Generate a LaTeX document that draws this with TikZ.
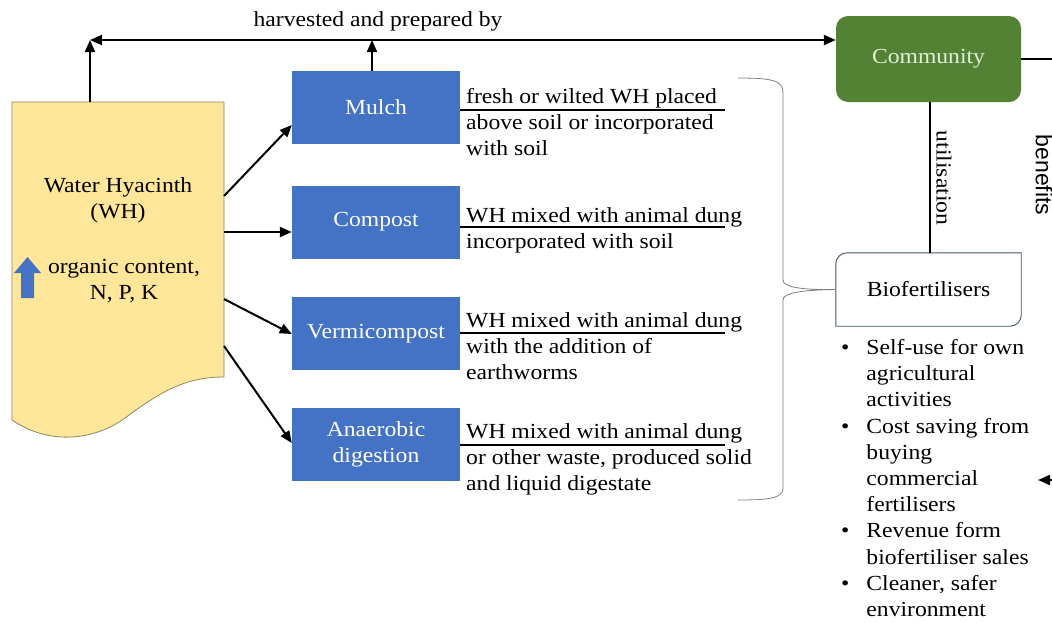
\documentclass[tikz,border=0pt]{standalone}
\usepackage{fontspec}
\setmainfont[FakeStretch=1.1]{Liberation Serif}
\setsansfont{Liberation Sans}
\usetikzlibrary{arrows.meta}
\definecolor{whfill}{HTML}{FFE699}
\definecolor{whdraw}{HTML}{8A8A5C}
\definecolor{bluebox}{HTML}{4472C4}
\definecolor{greenbox}{HTML}{548235}
\definecolor{greentext}{HTML}{E2F0D9}
\definecolor{bioline}{HTML}{44546A}
\definecolor{bracegray}{HTML}{808080}
\tikzset{
  x=1pt, y=-1pt,
  txt/.style={font=\fontsize{21.5}{26.2}\selectfont, inner sep=0pt},
  procbox/.style={txt, fill=bluebox, text=white, minimum width=168pt, minimum height=73pt, align=center},
  desc/.style={txt, anchor=north west, align=left},
  arr/.style={line width=2pt, -{Triangle[length=12pt,width=10pt]}},
  uline/.style={line width=2pt},
}
\begin{document}
\begin{tikzpicture}
\useasboundingbox (0,0) rectangle (1052,622);
% Water Hyacinth document shape
\fill[whfill, draw=whdraw, line width=0.8pt]
  (12,102) -- (224,102) -- (224,377)
  .. controls (185,377) and (160,392) .. (125,418)
  .. controls (95,440) and (50,446) .. (12,420) -- cycle;
\node[txt, align=center] (whname) at (118,200) {Water Hyacinth\\(WH)};
\node[txt, align=center] (whprop) at (124,281) {organic content,\\N, P, K};
\fill[bluebox] (21,298) -- (21,273) -- (14,273) -- (27.5,257) -- (41,273) -- (34,273) -- (34,298) -- cycle;
\coordinate (whtop) at (90,102);
\coordinate (w1) at (224,196);
\coordinate (w2) at (224,232);
\coordinate (w3) at (224,299);
\coordinate (w4) at (224,346);

% process boxes
\node[procbox] (mulch) at (376,107.5) {Mulch};
\node[procbox] (compost) at (376,222) {Compost};
\node[procbox] (vermi) at (376,333.5) {Vermicompost};
\node[procbox] (anaer) at (376,444.5) {Anaerobic\\digestion};

\draw[arr] (w1) -- (mulch.west |- 0,125);
\draw[arr] (w2) -- (compost.west |- 0,232);
\draw[arr] (w3) -- (vermi.west |- 0,334);
\draw[arr] (w4) -- (anaer.west |- 0,443);

% descriptions
\coordinate (e1) at (725,110);
\coordinate (e2) at (725,227);
\coordinate (e3) at (725,333);
\coordinate (e4) at (725,445);
\draw[uline] (mulch.east |- e1) -- (e1);
\draw[uline] (compost.east |- e2) -- (e2);
\draw[uline] (vermi.east |- e3) -- (e3);
\draw[uline] (anaer.east |- e4) -- (e4);
\node[desc] (d1) at (466,88) {fresh or wilted WH placed\\above soil or incorporated\\with soil};
\node[desc] (d2) at (466,207) {WH mixed with animal dung\\incorporated with soil};
\node[desc] (d3) at (466,312) {WH mixed with animal dung\\with the addition of\\earthworms};
\node[desc] (d4) at (466,423) {WH mixed with animal dung\\or other waste, produced solid\\and liquid digestate};

% community and top connector
\node[txt, fill=greenbox, text=greentext, rounded corners=12pt, minimum width=185pt, minimum height=86pt] (comm) at (928.5,59) {Community};
\coordinate (topleft) at (90,40);
\coordinate (mulchup) at (372,40);
\draw[arr] (whtop) -- (topleft);
\draw[line width=2pt, {Triangle[length=12pt,width=10pt]}-{Triangle[length=12pt,width=10pt]}] (topleft) -- (comm.west |- topleft);
\draw[arr] (mulch.north -| mulchup) -- (mulchup);
\node[txt] (harv) at (378,21) {harvested and prepared by};

% right edge line
\coordinate (redge) at (1052,59);
\draw[line width=1.4pt] (comm.east) -- (redge);

% biofertilisers
\node[txt, minimum width=185pt, minimum height=73pt] (bio) at (928.5,289.5) {Biofertilisers};
\draw[bioline, line width=0.9pt] (bio.south west) -- ([yshift=-11pt]bio.north west)
  arc[start angle=180, end angle=90, radius=11pt] -- (bio.north east)
  -- ([yshift=11pt]bio.south east) arc[start angle=0, end angle=-90, radius=11pt] -- cycle;
\draw[line width=1.4pt] (comm.south -| 930,0) -- (bio.north -| 930,0);
\node[txt, rotate=-90] (util) at (944,178) {utilisation};
\node[inner sep=0pt, font=\sffamily\fontsize{23}{26}\selectfont, rotate=-90] (ben) at (1044,175) {benefits};

% brace
\draw[bracegray, line width=0.8pt] (738,78) .. controls (770,78) and (783,80) .. (783,92)
  -- (783,280) .. controls (783,287) and (800,290) .. (bio.west)
  .. controls (800,290) and (783,293) .. (783,300)
  -- (783,488) .. controls (783,498) and (770,500) .. (738,500);

% bullets
\node[txt, anchor=north west] (list) at (841,336) {%
\begin{tabular}{@{}c@{\hspace{17pt}}l@{}}
\textbullet & Self-use for own\\
 & agricultural\\
 & activities\\
\textbullet & Cost saving from\\
 & buying\\
 & commercial\\
 & fertilisers\\
\textbullet & Revenue form\\
 & biofertiliser sales\\
\textbullet & Cleaner, safer\\
 & environment
\end{tabular}};

% incoming arrow at right edge
\coordinate (rin) at (1052,480);
\coordinate (rtip) at (1038,480);
\draw[arr] (rin) -- (rtip);
\end{tikzpicture}
\end{document}
